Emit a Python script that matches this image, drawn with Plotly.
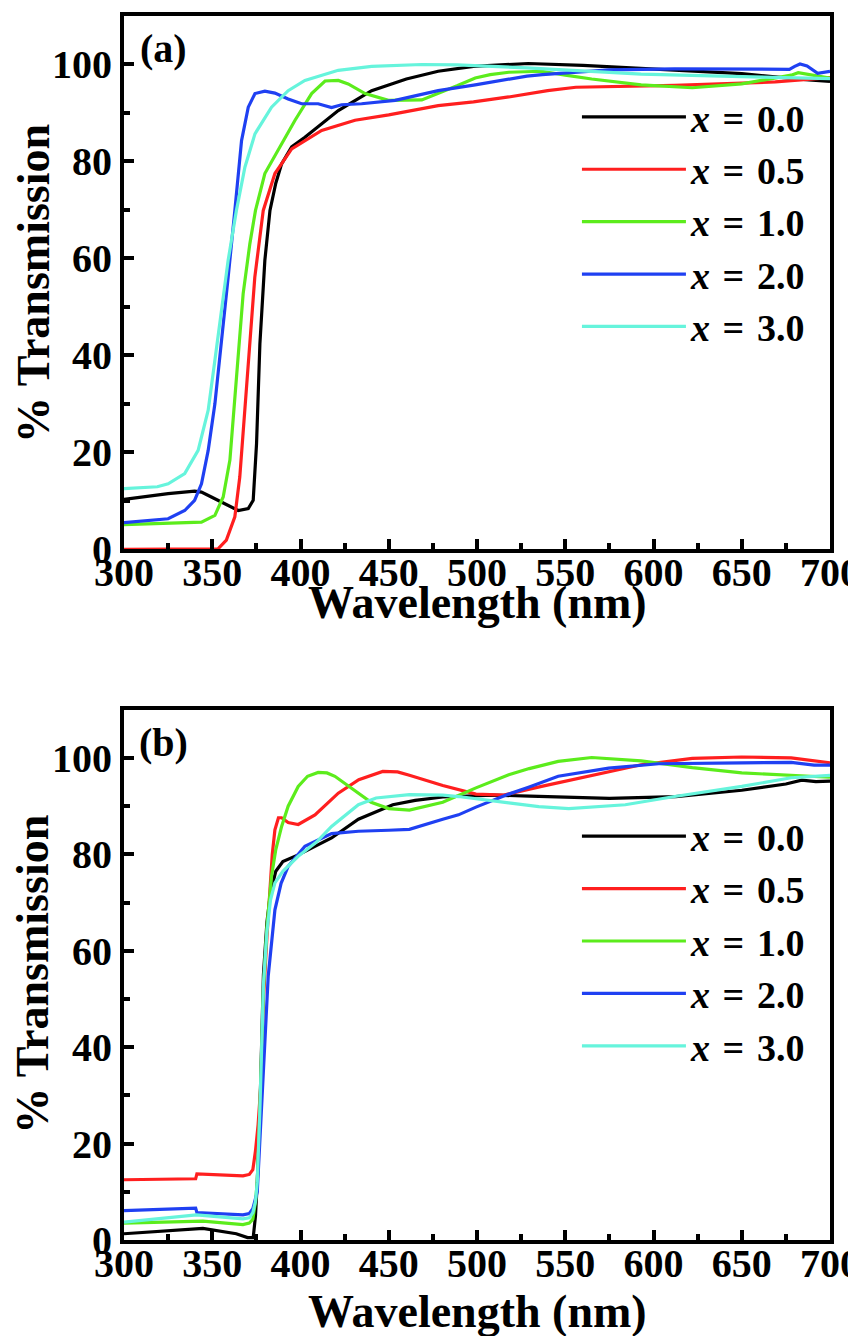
import plotly.graph_objects as go

labels = ["<i>x</i>\u200a =\u200a 0.0", "<i>x</i>\u200a =\u200a 0.5", "<i>x</i>\u200a =\u200a 1.0",
          "<i>x</i>\u200a =\u200a 2.0", "<i>x</i>\u200a =\u200a 3.0"]
colors = ["#000000", "#ff1f1f", "#5cec1c", "#1f40f2", "#66f4dc"]

# ---- panel (a) ----
a_wl_00 = [300, 325, 340, 343.9, 349.5, 357.1, 364.7, 370.4, 373.2, 375.1, 377, 379.8, 382.7, 386, 389.3, 395, 402.5, 421.4, 440.3, 460, 478, 498, 515, 529, 560, 593, 650, 688, 700]
a_t_00 = [10.3, 11.5, 12.0, 11.8, 10.8, 9.4, 8.0, 8.4, 10.1, 21.8, 42.4, 59.6, 69.9, 75.5, 79.5, 83, 85, 90.5, 94.6, 97, 98.6, 99.6, 100, 100.2, 99.8, 99.2, 98.1, 96.8, 96.5]

a_wl_05 = [300, 340, 353.3, 358, 362.8, 365.6, 368.5, 371.3, 374.1, 378.9, 385.5, 395, 412, 430.9, 450, 478, 498, 518, 540, 556, 612, 669, 688, 700]
a_t_05 = [0, 0, 0.1, 1.9, 6.7, 14.9, 28.7, 42.4, 56.1, 69.9, 77.5, 82.6, 86.4, 88.5, 89.6, 91.5, 92.3, 93.3, 94.6, 95.3, 95.7, 96.4, 96.9, 97.3]

a_wl_10 = [300, 325, 343.9, 351.5, 356.2, 360, 363.7, 367.5, 371.3, 374.5, 379.8, 387.4, 396.9, 406.3, 413.9, 421.4, 427, 436.6, 449.8, 468.7, 478, 488.7, 499, 507.5, 518, 536.6, 550, 565, 593, 622, 650, 670, 678, 682, 690, 700]
a_t_10 = [5.1, 5.3, 5.6, 7.0, 10.8, 18.4, 35.5, 52.7, 63, 69.9, 77.5, 82.3, 88.5, 94, 96.6, 96.7, 96, 94, 92.6, 92.7, 94, 95.6, 97.2, 97.9, 98.4, 98.6, 97.8, 97, 95.8, 95.2, 96, 97.2, 97.8, 98.3, 97.8, 97.2]

a_wl_20 = [300, 325, 334.4, 340, 343.9, 347.7, 351.5, 355.2, 359, 362.8, 366.6, 370.4, 374.2, 379.8, 385.5, 393, 400.6, 410, 417.6, 423.3, 434.6, 453.6, 478, 499, 507.5, 528.3, 537, 575, 612, 650, 677, 680, 683, 687, 693, 700]
a_t_20 = [5.5, 6.3, 8.0, 10.1, 13.5, 20.4, 30, 42.4, 56.1, 69.9, 84.3, 91.2, 94, 94.5, 94.1, 92.9, 91.9, 91.9, 91.1, 91.7, 91.9, 92.6, 94.6, 95.8, 96.3, 97.6, 97.9, 98.9, 99.1, 99.1, 99.0, 99.6, 100.1, 99.7, 98.2, 98.6]

a_wl_30 = [300, 318.9, 325, 334.4, 342, 347.7, 351.5, 355.2, 359, 363.7, 368.5, 374.2, 383.6, 393, 402.5, 421.4, 440.3, 468.7, 488.7, 528.3, 560, 593, 650, 700]
a_t_30 = [12.5, 12.9, 13.5, 15.6, 20.4, 28.7, 39, 49.3, 59.6, 69.9, 78.8, 85.7, 91.2, 94.6, 96.7, 98.8, 99.6, 100, 99.9, 99.3, 98.6, 98, 97.5, 97.1]

# ---- panel (b) ----
b_wl_00 = [300, 320, 344.7, 363.6, 370, 373.2, 374.5, 375.5, 377, 379, 381, 383, 386, 390, 398.7, 417.6, 432.8, 452.3, 465, 480.6, 508.9, 530, 575, 612.6, 650, 675, 684, 692, 700]
b_t_00 = [1.3, 1.8, 2.4, 1.3, 0.5, 0.5, 5, 12, 27, 55, 66, 72, 76.5, 78.5, 79.9, 83.4, 87.3, 90.3, 91.2, 91.9, 92.3, 92.1, 91.6, 92, 93.3, 94.6, 95.4, 95.1, 95.2]

b_wl_05 = [300, 340.6, 341.3, 367.4, 371, 373, 374.5, 376, 377.5, 379, 381, 382.7, 384, 385.5, 387.5, 389.3, 393, 398.7, 408.2, 421.4, 433, 446.6, 455, 461.7, 480.6, 499.4, 515, 536.6, 565, 593, 622, 650, 678, 688, 700]
b_t_05 = [12.5, 12.7, 13.7, 13.3, 13.6, 14.6, 18.5, 24, 32, 50, 63, 72, 80, 85.1, 87.6, 87.6, 86.6, 86.2, 88.2, 92.7, 95.5, 97.2, 97.1, 96.4, 94.3, 92.5, 92.3, 94.1, 96.4, 98.6, 99.9, 100.2, 100, 99.5, 99]

b_wl_10 = [300, 344.7, 367.4, 371, 373, 374.5, 375.5, 377, 379, 381, 383.6, 386, 389.3, 393, 398.7, 404, 410, 415, 419.5, 425, 432.8, 440, 450, 461.7, 480.6, 489.5, 499.4, 518, 529.6, 546, 565, 593, 622, 650, 678, 700]
b_t_10 = [3.5, 3.9, 3.2, 3.5, 4.3, 8, 12, 27, 52, 65, 75.5, 81, 85.8, 90, 94.1, 96.2, 97, 96.9, 96.2, 94.8, 92.7, 90.8, 89.5, 89.2, 90.8, 92.2, 93.8, 96.5, 97.8, 99.3, 100.1, 99.4, 98, 96.9, 96.4, 96]

b_wl_20 = [300, 340.6, 341.3, 367.4, 371, 373, 375.5, 378, 380, 381.7, 385.5, 389, 393, 402.5, 417.6, 432.8, 450, 461.7, 480.6, 489.5, 499.4, 518, 529.6, 546, 574.6, 603, 650, 678, 691, 700]
b_t_20 = [6.1, 6.6, 5.7, 5.2, 5.5, 6.5, 10, 27, 42, 54.7, 68.5, 74, 77.5, 81.7, 84.3, 84.8, 85, 85.2, 87.3, 88.2, 89.8, 92.5, 94, 96.2, 97.9, 98.8, 99, 99.1, 98.5, 98.5]

b_wl_30 = [300, 341, 367.4, 371, 373, 374.5, 375.5, 377, 379, 381, 383, 385.5, 390, 398.7, 408.9, 417.6, 432.8, 442.8, 461.7, 480.6, 489.5, 508.9, 518, 535, 552, 584, 612, 650, 678, 700]
b_t_30 = [3.7, 5.2, 4.4, 4.6, 5.7, 8, 12, 27, 53, 64, 70.5, 74.1, 76.5, 79.6, 82.5, 85.8, 90.3, 91.7, 92.4, 92.3, 92, 91.2, 90.7, 89.9, 89.5, 90.3, 92, 94.1, 95.9, 96.4]

panel_a = [(a_wl_00, a_t_00), (a_wl_05, a_t_05), (a_wl_10, a_t_10), (a_wl_20, a_t_20), (a_wl_30, a_t_30)]
panel_b = [(b_wl_00, b_t_00), (b_wl_05, b_t_05), (b_wl_10, b_t_10), (b_wl_20, b_t_20), (b_wl_30, b_t_30)]

x_ticks = [300, 350, 400, 450, 500, 550, 600, 650, 700]
y_ticks = [0, 20, 40, 60, 80, 100]

FONT = "Liberation Serif"

fig = go.Figure()
for i, (wl, t) in enumerate(panel_a):
    fig.add_trace(go.Scatter(x=wl, y=t, mode="lines", name=labels[i],
                             line=dict(color=colors[i], width=3.2),
                             xaxis="x", yaxis="y", legend="legend"))
for i, (wl, t) in enumerate(panel_b):
    fig.add_trace(go.Scatter(x=wl, y=t, mode="lines", name=labels[i],
                             line=dict(color=colors[i], width=3.2),
                             xaxis="x2", yaxis="y2", legend="legend2"))

ax_common = dict(
    showline=True, linewidth=4, linecolor="black", mirror=True,
    ticks="inside", ticklen=10, tickwidth=4, tickcolor="black",
    showgrid=False, zeroline=False,
    tickfont=dict(family=FONT, size=40, color="black", weight="bold"),
)
x_common = dict(ax_common, range=[300, 700], tickvals=x_ticks, ticklabelstandoff=-15,
                minor=dict(ticks="inside", ticklen=6, tickwidth=4, tickcolor="black", dtick=25, showgrid=False))
y_common = dict(ax_common, range=[0, 110], tickvals=y_ticks,
                minor=dict(ticks="inside", ticklen=6, tickwidth=4, tickcolor="black", dtick=10, showgrid=False))

legend_common = dict(
    font=dict(family=FONT, size=38, color="black", weight="bold"),
    bgcolor="rgba(0,0,0,0)", borderwidth=0, xanchor="right", yanchor="top",
    itemwidth=104, tracegroupgap=0,
)

title_font = dict(family=FONT, size=46, color="black", weight="bold")
panel_font = dict(family=FONT, size=40, color="black", weight="bold")

fig.update_layout(
    width=856, height=1336,
    margin=dict(l=116, r=34, t=4, b=104),
    plot_bgcolor="white", paper_bgcolor="white",
    showlegend=True,
    xaxis=dict(x_common, domain=[0, 1], anchor="y"),
    yaxis=dict(y_common, domain=[0.5643, 1], anchor="x"),
    xaxis2=dict(x_common, domain=[0, 1], anchor="y2"),
    yaxis2=dict(y_common, domain=[0, 0.4332], anchor="x2"),
    legend=dict(legend_common, x=0.973, y=0.9431),
    legend2=dict(legend_common, x=0.973, y=0.3554),
    annotations=[
        dict(text="Wavelength (nm)", x=0.5, y=0.5212, xref="paper", yref="paper",
             showarrow=False, font=title_font, xanchor="center", yanchor="middle"),
        dict(text="Wavelength (nm)", x=0.5, y=-0.0585, xref="paper", yref="paper",
             showarrow=False, font=title_font, xanchor="center", yanchor="middle"),
        dict(text="% Transmission", x=-0.129, y=0.7818, xref="paper", yref="paper",
             showarrow=False, font=title_font, textangle=-90, xanchor="center", yanchor="middle"),
        dict(text="% Transmission", x=-0.129, y=0.2174, xref="paper", yref="paper",
             showarrow=False, font=title_font, textangle=-90, xanchor="center", yanchor="middle"),
        dict(text="(a)", x=0.0555, y=0.9738, xref="paper", yref="paper",
             showarrow=False, font=panel_font, xanchor="center", yanchor="middle"),
        dict(text="(b)", x=0.0555, y=0.4061, xref="paper", yref="paper",
             showarrow=False, font=panel_font, xanchor="center", yanchor="middle"),
    ],
)

fig.write_html("out.html")
